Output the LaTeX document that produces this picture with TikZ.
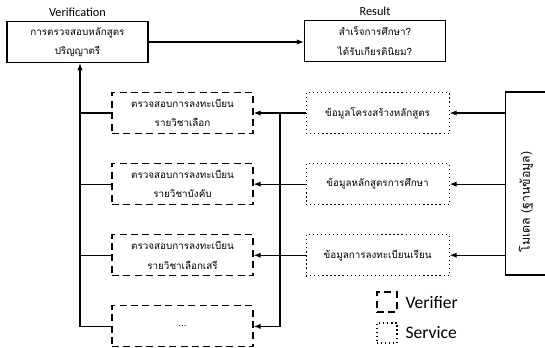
\documentclass[tikz,border=0pt]{standalone}
\usepackage{fontspec}
\setmainfont{Carlito}
\newfontfamily\thaifont[Script=Thai]{Loma}
\usetikzlibrary{arrows.meta,positioning}

\begin{document}
\begin{tikzpicture}[
  x=0.02cm, y=-0.02cm,
  box/.style={rectangle, draw, line width=0.65pt, text width=2.7cm, align=center,
              minimum width=2.82cm, minimum height=0.82cm, inner sep=0pt,
              font=\thaifont\fontsize{5.6}{11}\selectfont},
  verifier/.style={box, dash pattern=on 4pt off 2.5pt},
  service/.style={box, dash pattern=on 0.7pt off 1.6pt, minimum width=2.86cm},
  key/.style={rectangle, draw, line width=0.65pt, minimum size=0.4cm, inner sep=0pt},
  arr/.style={-{Latex[length=4pt,width=3pt]}, line width=0.65pt},
  link/.style={line width=0.65pt},
  caption/.style={font=\fontsize{7}{8}\selectfont, inner sep=1pt}
]
  \useasboundingbox (0,0) rectangle (545,348);

  \node[box] (verif)  at (77.5,42) {การตรวจสอบหลักสูตร\\ปริญญาตรี};
  \node[box] (result) at (375,41)  {สำเร็จการศึกษา?\\ได้รับเกียรตินิยม?};
  \node[caption, above=1pt of verif]  (veriftitle)  {Verification};
  \node[caption, above=1pt of result] (resulttitle) {Result};

  \node[verifier] (v1) at (182.5,113) {ตรวจสอบการลงทะเบียน\\รายวิชาเลือก};
  \node[verifier, below=0.58cm of v1] (v2) {ตรวจสอบการลงทะเบียน\\รายวิชาบังคับ};
  \node[verifier, below=0.58cm of v2] (v3) {ตรวจสอบการลงทะเบียน\\รายวิชาเลือกเสรี};
  \node[verifier, below=0.58cm of v3] (v4) {...};

  \node[service, right=1.04cm of v1] (s1) {ข้อมูลโครงสร้างหลักสูตร};
  \node[service, right=1.04cm of v2] (s2) {ข้อมูลหลักสูตรการศึกษา};
  \node[service, right=1.04cm of v3] (s3) {ข้อมูลการลงทะเบียนเรียน};

  \node[draw, line width=0.65pt, minimum width=0.84cm, minimum height=3.66cm,
        anchor=west] (model) at (505,183.5) {};
  \node[rotate=90, font=\thaifont\fontsize{7}{9}\selectfont] (modeltxt)
       at (526,202) {โมเดล (ฐานข้อมูล)};

  % legend
  \node[key, dash pattern=on 4pt off 2.5pt] (vkey) at (387,302) {};
  \node[right=1pt of vkey, font=\fontsize{10}{12}\selectfont] (vkeytxt) {Verifier};
  \node[key, dash pattern=on 0.7pt off 1.6pt] (skey) at (387,333) {};
  \node[right=1pt of skey, font=\fontsize{10}{12}\selectfont] (skeytxt) {Service};

  \coordinate (lbus) at (80,0);
  \coordinate (rbus) at (280,0);

  \draw[arr] (verif.east) -- (verif.east -| result.west);

  \draw[arr]  (v4.west) -| (verif.south -| lbus);
  \draw[link] (v1.west) -- (v1.west -| lbus);
  \draw[link] (v2.west) -- (v2.west -| lbus);
  \draw[link] (v3.west) -- (v3.west -| lbus);

  \draw[arr] (s1.west) -- (v1.east);
  \draw[arr] (s2.west) -- (v2.east);
  \draw[arr] (s3.west) -- (v3.east);
  \draw[arr] (s1.west -| rbus) |- (v4.east);

  \draw[arr] (s1.east -| model.west) -- (s1.east);
  \draw[arr] (s2.east -| model.west) -- (s2.east);
  \draw[arr] (s3.east -| model.west) -- (s3.east);
\end{tikzpicture}
\end{document}
